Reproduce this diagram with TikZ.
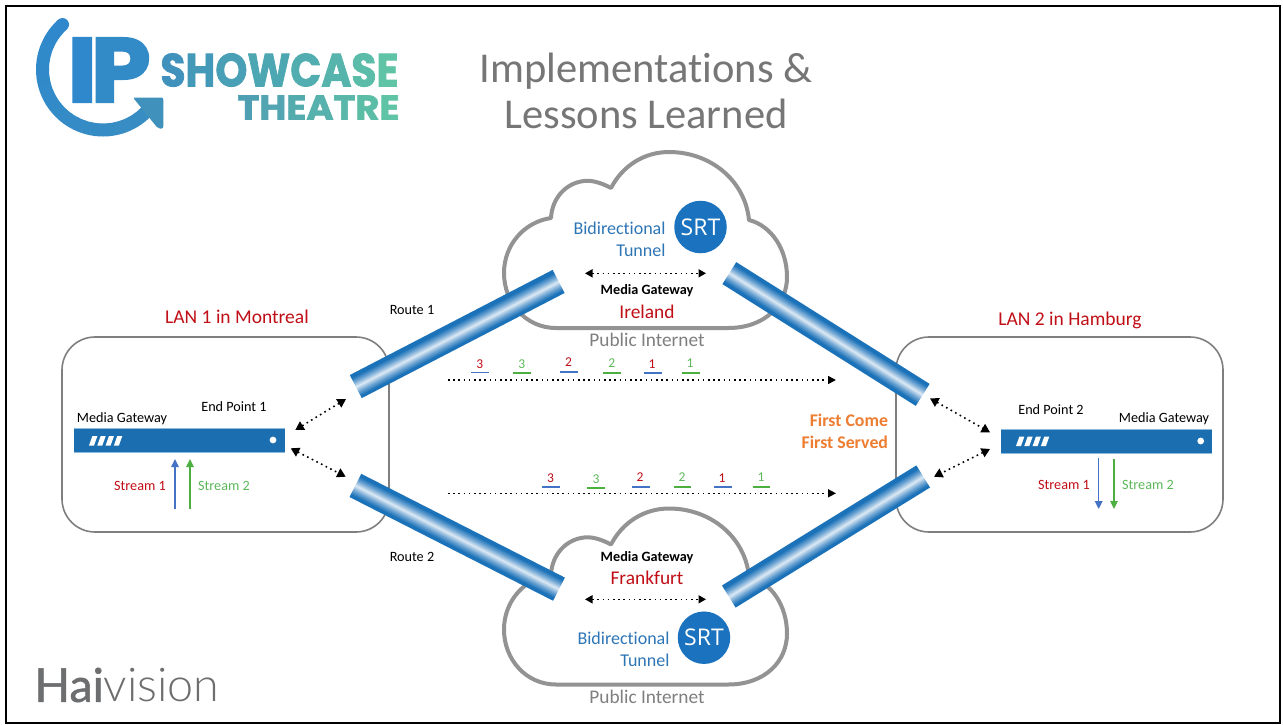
\documentclass[tikz,border=0pt]{standalone}
\usepackage{fontspec}
\usepackage{graphicx}
\setmainfont[Ligatures=CommonOff]{Carlito}
\newfontfamily\srtfont{Open Sans}
\newfontfamily\logofont[FakeBold=1.8]{Poppins}
\newfontfamily\logofontb[FakeBold=2.2]{Poppins}
\newfontfamily\haifont[FakeBold=1.2]{Lato}
\newfontfamily\visfont{Lato Light}
\usetikzlibrary{arrows.meta}
\definecolor{tb}{HTML}{1B72B8}
\definecolor{tbm}{HTML}{6FA5D3}
\definecolor{tbl}{HTML}{DCE9F4}
\definecolor{barblue}{HTML}{1B6EB0}
\definecolor{barlight}{HTML}{8DB9DD}
\definecolor{srtblue}{HTML}{1B72BE}
\definecolor{bitext}{HTML}{2E75B6}
\definecolor{lanred}{HTML}{C00F17}
\definecolor{strgreen}{HTML}{4CAF3F}
\definecolor{txtgreen}{HTML}{5DB85A}
\definecolor{strblue}{HTML}{4472C4}
\definecolor{cloudgray}{HTML}{939393}
\definecolor{roomgray}{HTML}{7F7F7F}
\definecolor{titlegray}{HTML}{767676}
\definecolor{firstorange}{HTML}{ED7D31}
\definecolor{logoA}{HTML}{2E88CB}
\definecolor{logoB}{HTML}{4092BC}
\definecolor{logoC}{HTML}{5FC3A5}
\definecolor{logoD}{HTML}{4F9FB3}
\definecolor{haigray}{HTML}{6D6E70}
\pgfdeclareverticalshading{tubeshade}{100bp}{color(0bp)=(tb); color(25bp)=(tb); color(31bp)=(tb); color(40bp)=(tbm); color(50bp)=(tbl); color(60bp)=(tbm); color(69bp)=(tb); color(75bp)=(tb); color(100bp)=(tb)}
\newcommand{\fsz}[1]{\fontsize{#1}{#1}\selectfont}
\newcommand{\lc}[2]{\textcolor{#1}{#2}}
\tikzset{
  txt/.style={inner sep=0pt,outer sep=0pt,align=center},
  small/.style={txt,font=\fsz{14.2}},
  numlabel/.style={txt,font=\fsz{13.5}},
  lanlabel/.style={txt,font=\fsz{19.5},text=lanred},
  citylabel/.style={txt,font=\fsz{19.4},text=lanred},
  bilabel/.style={txt,font=\fsz{18},text=bitext,anchor=east},
  publabel/.style={txt,font=\fsz{19.3},text=roomgray},
  gwbold/.style={txt,font=\fsz{14.2}\bfseries},
  titlelabel/.style={txt,font=\fsz{42.5},text=titlegray,anchor=base},
  firstlabel/.style={txt,font=\fsz{17.8}\bfseries,text=firstorange,anchor=east},
  cloudline/.style={draw=cloudgray,line width=4pt,fill=white,line join=round},
  room/.style={draw=roomgray,line width=1.6pt,rounded corners=33pt,fill=white},
  gwbar/.style={fill=barblue,minimum width=211pt,minimum height=24pt,inner sep=0pt,outer sep=0pt},
  srtdisc/.style={circle,fill=srtblue,minimum size=52.5pt,inner sep=0pt,text=white,font=\srtfont\fsz{23}},
  dotarrow/.style={line width=1.6pt,dash pattern=on 1.6pt off 3.6pt,{Triangle[length=7.5pt,width=8pt]}-{Triangle[length=7.5pt,width=8pt]}},
  dotlarge/.style={line width=1.6pt,dash pattern=on 1.6pt off 3.6pt,{Triangle[length=8.5pt,width=9.5pt]}-{Triangle[length=8.5pt,width=9.5pt]}},
  dotone/.style={line width=1.6pt,dash pattern=on 1.6pt off 3.6pt,-{Triangle[length=8pt,width=8pt]}},
  stream/.style={line width=1.5pt,-{Triangle[length=8pt,width=7.5pt]}},
  tubebody/.style={shading=tubeshade,minimum width=228.5pt,minimum height=26pt,inner sep=0pt,outer sep=0pt},
  slash/.style={fill=white},
}
% cloud outline, top lobe up
\newcommand{\cloudshape}{
  (556,328) -- (728,328) .. controls (765,328) and (787,305) .. (787,277)
  .. controls (787,250) and (772,226) .. (749,220)
  .. controls (745,180) and (710,152) .. (669,152)
  .. controls (645,152) and (623,165) .. (611,188)
  .. controls (600,182) and (590,180) .. (584,181)
  .. controls (566,183) and (552,198) .. (551,218)
  .. controls (524,222) and (504,245) .. (504,273)
  .. controls (504,303) and (526,328) .. (556,328) -- cycle}
% \seqnum{x}{y}{text colour}{digit}{underline colour}{x1}{x2}{uy}
\newcommand{\seqnum}[8]{
  \node[numlabel,text=#3] at (#1,#2) {#4};
  \draw[#5,line width=1.3pt] (#6,#8) -- (#7,#8);
}
\newcommand{\slashes}[2]{% x, y top
  \foreach \k in {0,8.3,16.6,24.9}{
    \fill[slash] (#1+\k,#2+9.5) -- (#1+\k+3.4,#2) -- (#1+\k+8.4,#2) -- (#1+\k+5,#2+9.5) -- cycle;
  }
}
\begin{document}
\begin{tikzpicture}[x=1pt,y=-1pt]
\useasboundingbox (0,0) rectangle (1283,724);
\fill[white] (0,0) rectangle (1283,724);
\draw[black,line width=2pt] (6,6) rectangle (1280,722.5);

% --- logo
\foreach \i in {0,...,23}{
  \pgfmathsetmacro{\sa}{228-\i*7.9}
  \pgfmathsetmacro{\mixv}{100-\i*2.5}
  \draw[logoA!\mixv!logoB,line width=13pt] ([shift={(\sa:60.5)}]103,69.5) arc[start angle=\sa,end angle=\sa-8.4,radius=60.5];
}
\fill[logoA] (103,69.5) ++(228:60.5) circle (6.5pt);
\fill[logoB,rounded corners=2pt] (133,97.5) -- (163.3,97.5) -- (163.3,128.5) -- (158,128.5) -- cycle;
\node[txt] (logoIP) at (109,70) {\logofontb\bfseries\resizebox{30pt}{64pt}{\lc{logoA}{I}}\hspace{-6.5pt}\resizebox{60pt}{64pt}{\lc{logoA!75!logoB}{P}}};
\node[txt] (logoSC) at (279.5,70) {\resizebox{238pt}{33pt}{\logofont\bfseries
  \lc{logoB}{S}\lc{logoB!86!logoC}{H}\lc{logoB!72!logoC}{O}\lc{logoB!58!logoC}{W}\lc{logoB!44!logoC}{C}\lc{logoB!30!logoC}{A}\lc{logoB!15!logoC}{S}\lc{logoC}{E}}};
\node[txt] (logoTH) at (318.5,107.5) {\resizebox{162pt}{24pt}{\logofont\bfseries
  \lc{logoD}{T}\lc{logoD!83!logoC}{H}\lc{logoD!67!logoC}{E}\lc{logoD!50!logoC}{A}\lc{logoD!33!logoC}{T}\lc{logoD!17!logoC}{R}\lc{logoC}{E}}};
\node[txt] (hai) at (127,685) {\resizebox{185pt}{!}{\color{haigray}{\haifont Hai}{\visfont vision}}};

% --- title
\node[titlelabel] (title1) at (646,82) {Implementations \&};
\node[titlelabel] (title2) at (646,128) {Lessons Learned};

% --- clouds
\draw[cloudline] \cloudshape;
\begin{scope}[shift={(0,356.5)}]
\draw[cloudline] \cloudshape;
\end{scope}

% --- rooms
\draw[room] (62,337) rectangle (389,532);
\draw[room] (896,337) rectangle (1223,532);
\node[lanlabel] (lan1) at (237,317) {LAN 1 in Montreal};
\node[lanlabel] (lan2) at (1070,320) {LAN 2 in Hamburg};

% --- tubes
\begin{scope}[transform canvas={shift={(457.2,334)},rotate=27.4}]
\node[tubebody] (tubeA) at (0,0) {};
\end{scope}
\begin{scope}[transform canvas={shift={(826,334)},rotate=-32.2}]
\node[tubebody] (tubeB) at (0,0) {};
\end{scope}
\begin{scope}[transform canvas={shift={(457.2,537.3)},rotate=-27}]
\node[tubebody] (tubeC) at (0,0) {};
\end{scope}
\begin{scope}[transform canvas={shift={(826,536.5)},rotate=31.7}]
\node[tubebody] (tubeD) at (0,0) {};
\end{scope}

% --- cloud contents
\node[srtdisc] (srtT) at (700.5,227) {SRT};
\node[bilabel] (biT) at (665.5,228.5) {Bidirectional};
\node[bilabel] (tuT) at (665.5,250.5) {Tunnel};
\coordinate (tL) at (585,273.3); \coordinate (tR) at (706,273.3);
\draw[dotarrow] (tL) -- (tR);
\node[gwbold] (gwT) at (647,290.7) {Media Gateway};
\node[citylabel] (irl) at (647,312) {Ireland};
\node[publabel] (pubT) at (647,340) {Public Internet};

\node[gwbold] (gwB) at (647,557.7) {Media Gateway};
\node[citylabel] (fra) at (647,578) {Frankfurt};
\coordinate (bL) at (585,599.3); \coordinate (bR) at (706,599.3);
\draw[dotarrow] (bL) -- (bR);
\node[srtdisc] (srtB) at (704,637.7) {SRT};
\node[bilabel] (biB) at (669.5,638.7) {Bidirectional};
\node[bilabel] (tuB) at (669.5,660.7) {Tunnel};
\node[publabel] (pubB) at (647,697) {Public Internet};

\node[small] (r1) at (412,310) {Route 1};
\node[small] (r2) at (412,556.7) {Route 2};

% --- packet sequences
\coordinate (s1a) at (448,380); \coordinate (s1b) at (836,380);
\draw[dotone] (s1a) -- (s1b);
\seqnum{479.7}{363.7}{lanred}{3}{strblue}{471}{488.5}{372.7}
\seqnum{521.8}{363.7}{txtgreen}{3}{strgreen}{513}{531}{373}
\seqnum{568.5}{361.7}{lanred}{2}{strblue}{560.4}{578.4}{372}
\seqnum{611.7}{362.7}{txtgreen}{2}{strgreen}{603}{620.5}{373}
\seqnum{652}{364}{lanred}{1}{strblue}{644}{661.5}{373}
\seqnum{690}{363}{txtgreen}{1}{strgreen}{681.7}{699.7}{373}

\coordinate (s2a) at (448,493.3); \coordinate (s2b) at (836,493.3);
\draw[dotone] (s2a) -- (s2b);
\seqnum{550.5}{478}{lanred}{3}{strblue}{542}{559.7}{487}
\seqnum{596}{479}{txtgreen}{3}{strgreen}{587}{605}{488}
\seqnum{640}{476.7}{lanred}{2}{strblue}{632.4}{650.4}{487}
\seqnum{682}{476.7}{txtgreen}{2}{strgreen}{673.7}{691.3}{487}
\seqnum{722}{478}{lanred}{1}{strblue}{714}{732}{487}
\seqnum{761}{477}{txtgreen}{1}{strgreen}{752.5}{770}{487}

\node[firstlabel] (fc1) at (888,420) {First Come};
\node[firstlabel] (fc2) at (888,442) {First Served};

% --- left gateway
\node[gwbar] (barL) at (179.5,440) {};
\draw[barlight,line width=.8pt] (barL.north west) -- (barL.north east);
\draw[barlight,line width=.8pt] (barL.south west) -- (barL.south east);
\slashes{89}{436}
\fill[white] (273,440) circle (3.4pt);
\node[small] (mgL) at (122,419) {Media Gateway};
\node[small] (epL) at (234,406.7) {End Point 1};
\coordinate (sL1a) at (175,509); \coordinate (sL1b) at (175,459);
\coordinate (sL2a) at (190,509); \coordinate (sL2b) at (190,459);
\draw[stream,strblue] (sL1a) -- (sL1b);
\draw[stream,strgreen] (sL2a) -- (sL2b);
\node[small,text=lanred] (stL1) at (140,485.7) {Stream 1};
\node[small,text=txtgreen] (stL2) at (224,485.7) {Stream 2};
\coordinate (la1) at (346,399); \coordinate (la2) at (295.3,430);
\coordinate (lb1) at (290.7,448.3); \coordinate (lb2) at (345.7,476.7);
\draw[dotlarge] (la1) -- (la2);
\draw[dotlarge] (lb1) -- (lb2);

% --- right gateway
\node[gwbar] (barR) at (1106.5,441) {};
\draw[barlight,line width=.8pt] (barR.north west) -- (barR.north east);
\draw[barlight,line width=.8pt] (barR.south west) -- (barR.south east);
\slashes{1016}{436.5}
\fill[white] (1200.7,441) circle (3.4pt);
\node[small] (mgR) at (1164,419) {Media Gateway};
\node[small] (epR) at (1051,409.7) {End Point 2};
\coordinate (sR1a) at (1098.7,458); \coordinate (sR1b) at (1098.7,509);
\coordinate (sR2a) at (1114,459); \coordinate (sR2b) at (1114,509);
\draw[stream,strblue] (sR1a) -- (sR1b);
\draw[stream,strgreen] (sR2a) -- (sR2b);
\node[small,text=lanred] (stR1) at (1064,485) {Stream 1};
\node[small,text=txtgreen] (stR2) at (1148,485) {Stream 2};
\coordinate (ra1) at (930,398.3); \coordinate (ra2) at (990,432.3);
\coordinate (rb1) at (990,449); \coordinate (rb2) at (934,476.7);
\draw[dotlarge] (ra1) -- (ra2);
\draw[dotlarge] (rb1) -- (rb2);
\end{tikzpicture}
\end{document}
